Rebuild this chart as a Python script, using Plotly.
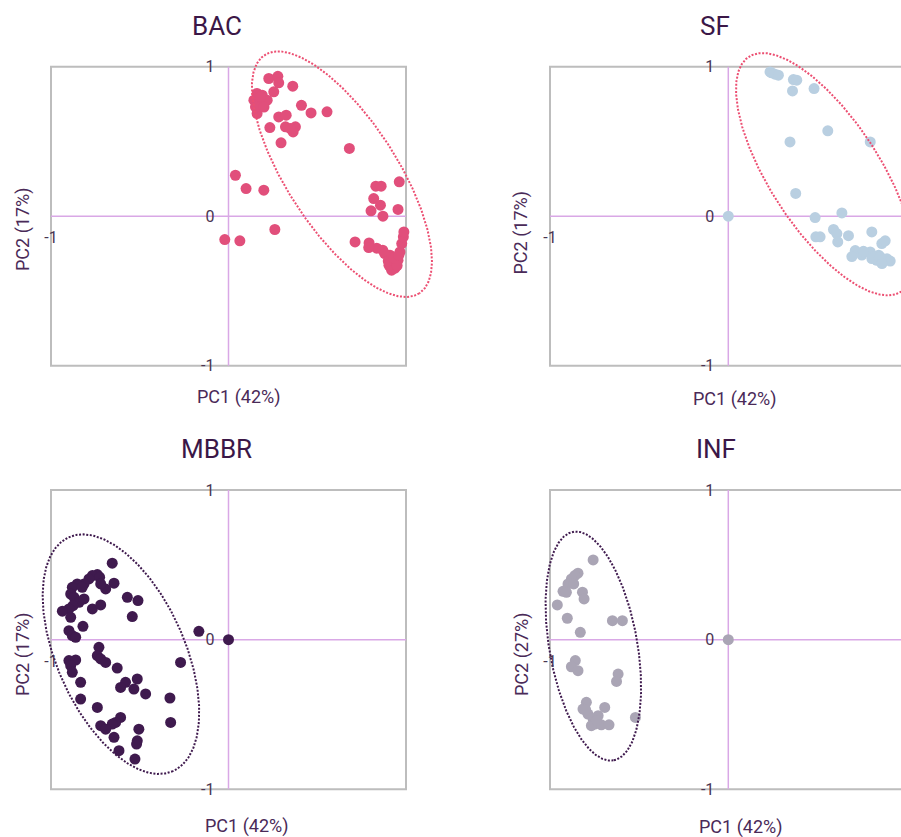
import numpy as np
import plotly.graph_objects as go

W, H = 901, 837

# ---- PCA scores per treatment stage -------------------------------------
bac_x = [0.227, 0.278, 0.283, 0.255, 0.362, 0.161, 0.190, 0.143, 0.171, 0.218,
         0.161, 0.152, 0.411, 0.465, 0.555, 0.283, 0.325, 0.233, 0.321, 0.377,
         0.364, 0.349, 0.296, 0.681, 0.039, 0.099, 0.199, 0.830, 0.860, 0.962,
         0.818, 0.856, 0.803, 0.870, 0.955, 0.261, -0.021, 0.064, 0.713, 0.792,
         0.835, 0.869, 0.910, 0.927, 0.938, 0.955, 0.966, 0.976, 0.985, 0.988,
         0.919, 0.904, 0.790, 0.880, 0.900, 0.950, 0.930, 0.960, 0.180, 0.200]
bac_y = [0.921, 0.936, 0.892, 0.832, 0.870, 0.821, 0.809, 0.776, 0.754, 0.776,
         0.687, 0.731, 0.742, 0.691, 0.698, 0.664, 0.676, 0.593, 0.598, 0.598,
         0.564, 0.586, 0.491, 0.453, 0.274, 0.185, 0.174, 0.201, 0.201, 0.230,
         0.118, 0.074, 0.036, 0.000, 0.045, -0.089, -0.156, -0.165, -0.172, -0.179,
         -0.214, -0.227, -0.261, -0.314, -0.348, -0.294, -0.239, -0.183, -0.138, -0.105,
         -0.361, -0.328, -0.210, -0.250, -0.300, -0.330, -0.280, -0.260, 0.800, 0.730]

sf_x = [0.234, 0.243, 0.262, 0.281, 0.365, 0.384, 0.360, 0.481, 0.558, 0.346,
        0.796, 0.378, 0.000, 0.487, 0.637, 0.590, 0.609, 0.491, 0.515, 0.614,
        0.674, 0.805, 0.861, 0.880, 0.712, 0.693, 0.749, 0.796, 0.815, 0.833,
        0.861, 0.890, 0.908, 0.805, 0.843, 0.758, 0.852, 0.862]
sf_y = [0.965, 0.959, 0.950, 0.943, 0.914, 0.910, 0.838, 0.854, 0.571, 0.497,
        0.497, 0.152, 0.000, -0.009, 0.022, -0.089, -0.116, -0.138, -0.138, -0.172,
        -0.130, -0.105, -0.183, -0.165, -0.230, -0.270, -0.260, -0.239, -0.272, -0.295,
        -0.310, -0.285, -0.300, -0.283, -0.261, -0.235, -0.272, -0.317]

mbbr_x = [-0.655, -0.739, -0.767, -0.786, -0.726, -0.814, -0.852, -0.880, -0.824, -0.645,
          -0.692, -0.720, -0.889, -0.870, -0.570, -0.510, -0.842, -0.814, -0.876, -0.899,
          -0.767, -0.720, -0.936, -0.889, -0.542, -0.820, -0.899, -0.880, -0.861, -0.167,
          0.000, -0.730, -0.739, -0.720, -0.692, -0.899, -0.861, -0.889, -0.880, -0.833,
          -0.627, -0.270, -0.580, -0.608, -0.514, -0.533, -0.467, -0.833, -0.330, -0.739,
          -0.608, -0.636, -0.655, -0.720, -0.692, -0.645, -0.326, -0.505, -0.514, -0.518,
          -0.617, -0.527]
mbbr_y = [0.511, 0.435, 0.428, 0.406, 0.417, 0.372, 0.372, 0.350, 0.350, 0.377,
          0.339, 0.372, 0.305, 0.283, 0.283, 0.261, 0.250, 0.272, 0.227, 0.205,
          0.205, 0.232, 0.190, 0.149, 0.154, 0.089, 0.060, 0.027, 0.016, 0.056,
          0.000, -0.051, -0.107, -0.129, -0.152, -0.140, -0.136, -0.174, -0.218, -0.285,
          -0.190, -0.152, -0.285, -0.319, -0.263, -0.330, -0.363, -0.397, -0.390, -0.453,
          -0.520, -0.553, -0.564, -0.575, -0.598, -0.653, -0.553, -0.598, -0.676, -0.698,
          -0.742, -0.798]

inf_x = [-0.758, -0.843, -0.861, -0.880, -0.899, -0.927, -0.908, -0.867, -0.818, -0.809,
         -0.959, -0.903, -0.830, -0.650, -0.594, 0.000, -0.858, -0.880, -0.843, -0.618,
         -0.627, -0.796, -0.815, -0.787, -0.758, -0.730, -0.749, -0.712, -0.669, -0.693,
         -0.768, -0.521, -0.800, -0.740]
inf_y = [0.533, 0.444, 0.428, 0.406, 0.372, 0.323, 0.316, 0.372, 0.317, 0.272,
         0.232, 0.143, 0.049, 0.127, 0.127, 0.000, -0.140, -0.181, -0.207, -0.230,
         -0.279, -0.419, -0.464, -0.497, -0.531, -0.508, -0.564, -0.569, -0.569, -0.453,
         -0.575, -0.520, -0.470, -0.540]

titles = ["BAC", "SF", "MBBR", "INF"]
pc1_labels = ["PC1 (42%)", "PC1 (42%)", "PC1 (42%)", "PC1 (42%)"]
pc2_labels = ["PC2 (17%)", "PC2 (17%)", "PC2 (17%)", "PC2 (27%)"]
y_ticks = [-1, 0, 1]
x_ticks = [-1]

# confidence ellipses: centre in score units, semi-axes in screen px, tilt in deg
ellipses = [
    dict(cx=0.639, cy=0.281, a=142, b=55, ang=57),
    dict(cx=0.543, cy=0.281, a=140, b=55, ang=57),
    dict(cx=-0.606, cy=-0.097, a=128, b=64, ang=66),
    dict(cx=-0.757, cy=-0.043, a=116, b=44, ang=80),
]

point_colors = ["#e14f7b", "#b9cfe1", "#3f1a4e", "#aaa5b5"]
ring_colors = ["#ec4f72", "#ec4f72", "#3f1a4e", "#3f1a4e"]

series = [(bac_x, bac_y), (sf_x, sf_y), (mbbr_x, mbbr_y), (inf_x, inf_y)]

# ---- layout geometry (pixels) ------------------------------------------
col_px = [(51, 406), (550, 906)]       # left/right frame edge of each column
col_zero = [228.5, 728.3]              # pixel of PC1 = 0
row_px = [(66.7, 365.7), (490, 789.3)]  # top/bottom frame edge of each row
PAD = 30                               # room around the frame for the ellipses

TITLE_FONT = dict(family="Roboto", size=26, color="#3b1747")
LABEL_FONT = dict(family="Roboto", size=18, color="#4a2a58")
TICK_FONT = dict(family="Roboto", size=16, color="#4a3552")
AXIS_LINE = "#d9a8e6"
BOX_LINE = "#bdbdbd"

fig = go.Figure()
layout = dict(
    template="none",
    width=W, height=H, margin=dict(l=0, r=0, t=0, b=0, pad=0), autosize=False,
    paper_bgcolor="white", plot_bgcolor="rgba(0,0,0,0)", showlegend=False,
    annotations=[], shapes=[],
)

t = np.linspace(0, 2 * np.pi, 400)

for i, name in enumerate(titles):
    r, c = divmod(i, 2)
    left, right = col_px[c]
    top, bottom = row_px[r]
    zero_px = col_zero[c]
    sx = zero_px - left                     # px per PC1 unit
    sy = (bottom - top) / 2.0               # px per PC2 unit
    ymid_px = (top + bottom) / 2.0

    d_left = left - PAD
    d_right = min(right + PAD, W)
    d_top = top - PAD
    d_bottom = bottom + PAD
    x_range = [(d_left - zero_px) / sx, (d_right - zero_px) / sx]
    y_range = [(ymid_px - d_bottom) / sy, (ymid_px - d_top) / sy]

    suffix = "" if i == 0 else str(i + 1)
    xa, ya = "xaxis" + suffix, "yaxis" + suffix
    xr, yr = "x" + suffix, "y" + suffix

    layout[xa] = dict(
        domain=[d_left / W, d_right / W], range=x_range, anchor="free",
        position=1 - ymid_px / H, showgrid=False, zeroline=False, showline=False,
        ticks="", tickvals=x_ticks, ticktext=[str(v) for v in x_ticks],
        tickfont=TICK_FONT, ticklabelstandoff=10, automargin=False,
        fixedrange=True,
    )
    layout[ya] = dict(
        domain=[1 - d_bottom / H, 1 - d_top / H], range=y_range, anchor="free",
        position=zero_px / W, side="left", showgrid=False, zeroline=False,
        showline=False, ticks="", tickvals=y_ticks,
        ticktext=[str(v) for v in y_ticks], tickfont=TICK_FONT,
        ticklabelstandoff=14, automargin=False, fixedrange=True,
    )

    # frame around the panel and the two zero axes
    layout["shapes"] += [
        dict(type="rect", xref=xr, yref=yr, x0=-1, x1=1, y0=-1, y1=1,
             line=dict(color=BOX_LINE, width=2), layer="below"),
        dict(type="line", xref=xr, yref=yr, x0=-1, x1=1, y0=0, y1=0,
             line=dict(color=AXIS_LINE, width=1.5), layer="below"),
        dict(type="line", xref=xr, yref=yr, x0=0, x1=0, y0=-1, y1=1,
             line=dict(color=AXIS_LINE, width=1.5), layer="below"),
    ]

    xs, ys = series[i]
    fig.add_trace(go.Scatter(
        x=xs, y=ys, mode="markers", xaxis=xr, yaxis=yr,
        marker=dict(size=11, color=point_colors[i], line=dict(width=0)),
        hoverinfo="x+y",
    ))

    e = ellipses[i]
    th = np.deg2rad(e["ang"])
    ex = e["cx"] + (e["a"] * np.cos(t) * np.cos(th) - e["b"] * np.sin(t) * np.sin(th)) / sx
    ey = e["cy"] - (e["a"] * np.cos(t) * np.sin(th) + e["b"] * np.sin(t) * np.cos(th)) / sy
    fig.add_trace(go.Scatter(
        x=ex, y=ey, mode="lines", xaxis=xr, yaxis=yr,
        line=dict(color=ring_colors[i], width=2, dash="2px,1.6px"),
        hoverinfo="skip",
    ))

# panel titles and axis titles (pixel centres)
title_pos = [(216.5, 26), (715, 26), (216.5, 449), (715.5, 449)]
pc1_pos = [(239, 397), (735, 399), (246.5, 826), (741, 827)]
pc2_pos = [(23, 229), (520, 232.5), (23, 654), (522, 654)]

for i in range(4):
    tx, ty = title_pos[i]
    layout["annotations"].append(dict(
        text=titles[i], x=tx / W, y=1 - ty / H, xref="paper", yref="paper",
        showarrow=False, xanchor="center", yanchor="middle", font=TITLE_FONT))
    px_, py_ = pc1_pos[i]
    layout["annotations"].append(dict(
        text=pc1_labels[i], x=px_ / W, y=1 - py_ / H, xref="paper", yref="paper",
        showarrow=False, xanchor="center", yanchor="middle", font=LABEL_FONT))
    qx, qy = pc2_pos[i]
    layout["annotations"].append(dict(
        text=pc2_labels[i], x=qx / W, y=1 - qy / H, xref="paper", yref="paper",
        showarrow=False, xanchor="center", yanchor="middle", textangle=-90,
        font=LABEL_FONT))

fig.update_layout(**layout)
fig.write_html("out.html", config=dict(displayModeBar=False))
